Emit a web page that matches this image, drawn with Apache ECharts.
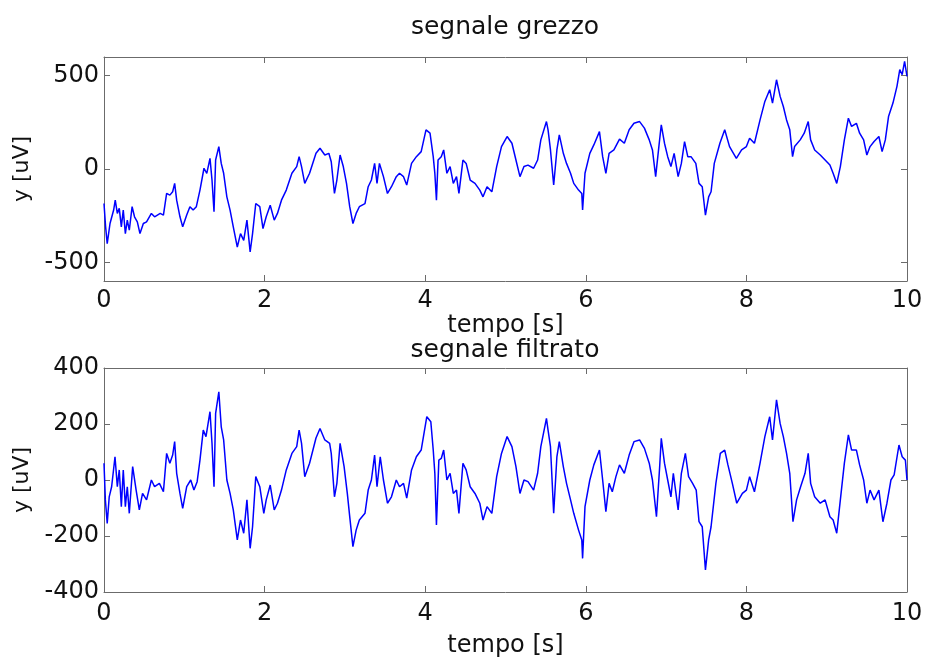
<!DOCTYPE html>
<html>
<head>
<meta charset="utf-8">
<script src="https://cdn.jsdelivr.net/npm/echarts@6/dist/echarts.min.js"></script>
<style>
html,body{margin:0;padding:0;background:#fff;}
#chart{width:925px;height:657px;}
</style>
</head>
<body>
<div id="chart"></div>
<script>
// ---- data ----
const xTicks = [0, 2, 4, 6, 8, 10];
const rawYTicks = [-500, 0, 500];
const filtYTicks = [-400, -200, 0, 200, 400];

const tRaw = [
 0,0.02,0.04,0.075,0.12,0.14,0.166,0.19,0.216,0.24,
 0.266,0.29,0.315,0.35,0.38,0.415,0.448,0.49,0.53,0.59,
 0.63,0.70,0.74,0.78,0.82,0.855,0.88,0.905,0.946,0.98,
 1.03,1.07,1.11,1.15,1.195,1.245,1.28,1.32,1.345,1.37,
 1.39,1.43,1.46,1.49,1.53,1.57,1.61,1.66,1.70,1.74,
 1.78,1.82,1.85,1.89,1.94,1.98,2.02,2.07,2.12,2.16,
 2.21,2.27,2.34,2.40,2.43,2.46,2.50,2.56,2.64,2.69,
 2.75,2.80,2.83,2.87,2.90,2.94,2.98,3.02,3.06,3.10,
 3.14,3.18,3.25,3.29,3.33,3.37,3.40,3.43,3.48,3.53,
 3.58,3.64,3.68,3.73,3.77,3.83,3.89,3.95,4.01,4.06,
 4.10,4.12,4.14,4.16,4.20,4.23,4.27,4.31,4.35,4.39,
 4.42,4.47,4.51,4.56,4.62,4.68,4.72,4.77,4.83,4.89,
 4.95,5.02,5.08,5.13,5.18,5.23,5.28,5.35,5.40,5.44,
 5.51,5.53,5.56,5.60,5.64,5.67,5.72,5.76,5.81,5.85,
 5.91,5.95,5.96,5.99,6.05,6.10,6.17,6.21,6.25,6.29,
 6.35,6.42,6.48,6.54,6.60,6.67,6.73,6.79,6.83,6.87,
 6.91,6.94,6.98,7.02,7.06,7.10,7.15,7.19,7.23,7.27,
 7.31,7.37,7.41,7.45,7.49,7.53,7.56,7.60,7.67,7.73,
 7.79,7.875,7.94,8.0,8.04,8.10,8.17,8.23,8.29,8.325,
 8.375,8.42,8.46,8.5,8.54,8.575,8.60,8.67,8.72,8.77,
 8.80,8.85,8.92,8.98,9.04,9.08,9.125,9.17,9.22,9.27,
 9.31,9.37,9.41,9.46,9.5,9.54,9.59,9.65,9.69,9.73,
 9.77,9.825,9.875,9.91,9.94,9.97,10.0
];
const yRaw = [
 -185,-310,-400,-292,-220,-167,-238,-211,-310,-220,
 -346,-274,-328,-202,-256,-283,-346,-292,-283,-238,
 -256,-238,-247,-131,-140,-122,-77,-167,-256,-310,
 -247,-202,-220,-202,-113,4,-23,57,-59,-229,
 48,120,30,-23,-149,-220,-310,-418,-346,-382,
 -274,-444,-346,-185,-202,-319,-256,-194,-274,-238,
 -167,-113,-23,13,66,13,-77,-23,84,111,
 75,84,39,-131,-59,75,13,-77,-202,-292,
 -238,-202,-185,-95,-59,30,-77,30,-41,-131,
 -95,-41,-23,-41,-86,30,66,93,210,192,
 66,-23,-167,48,66,102,-23,13,-77,-41,
 -131,48,30,-59,-77,-113,-149,-95,-122,13,
 120,174,138,48,-41,13,21,4,48,156,
 254,210,102,-86,102,183,84,30,-23,-77,
 -113,-131,-220,-23,84,129,200,66,-23,84,
 102,160,138,210,245,254,219,156,102,-41,
 120,237,138,66,13,84,-41,30,147,66,
 66,30,-77,-95,-247,-149,-122,30,138,210,
 120,57,102,120,165,138,263,362,425,353,
 478,389,335,263,210,66,120,156,192,254,
 156,102,75,48,21,-23,-77,13,156,272,
 228,245,192,156,75,120,147,174,93,156,
 281,353,443,532,505,577,496
];

const tFilt = [
 0,0.017,0.04,0.065,0.095,0.137,0.166,0.19,0.216,0.24,
 0.266,0.29,0.315,0.357,0.40,0.44,0.48,0.53,0.59,0.63,
 0.69,0.74,0.78,0.82,0.855,0.88,0.905,0.946,0.98,1.03,
 1.08,1.12,1.16,1.195,1.236,1.27,1.32,1.345,1.37,1.39,
 1.43,1.46,1.49,1.53,1.57,1.61,1.66,1.70,1.74,1.78,
 1.82,1.85,1.89,1.94,1.99,2.02,2.07,2.12,2.16,2.21,
 2.27,2.34,2.40,2.43,2.46,2.50,2.56,2.64,2.69,2.75,
 2.81,2.83,2.87,2.90,2.94,2.99,3.03,3.06,3.10,3.14,
 3.18,3.25,3.29,3.33,3.37,3.40,3.44,3.48,3.53,3.58,
 3.64,3.68,3.73,3.77,3.83,3.89,3.95,4.02,4.07,4.10,
 4.12,4.14,4.17,4.20,4.23,4.27,4.31,4.35,4.39,4.42,
 4.47,4.51,4.56,4.62,4.68,4.72,4.77,4.83,4.89,4.95,
 5.02,5.08,5.13,5.18,5.23,5.28,5.35,5.40,5.44,5.51,
 5.53,5.56,5.60,5.64,5.67,5.72,5.76,5.81,5.85,5.91,
 5.95,5.96,5.99,6.05,6.10,6.17,6.21,6.25,6.29,6.33,
 6.375,6.42,6.48,6.54,6.60,6.67,6.73,6.79,6.83,6.88,
 6.92,6.94,6.98,7.02,7.06,7.09,7.15,7.19,7.24,7.28,
 7.33,7.375,7.41,7.45,7.49,7.53,7.56,7.62,7.675,7.73,
 7.77,7.825,7.88,7.95,8.0,8.04,8.10,8.17,8.23,8.29,
 8.325,8.375,8.42,8.46,8.50,8.54,8.58,8.625,8.675,8.73,
 8.77,8.80,8.85,8.92,8.98,9.04,9.08,9.125,9.17,9.22,
 9.27,9.31,9.37,9.41,9.46,9.50,9.54,9.59,9.65,9.70,
 9.75,9.80,9.84,9.90,9.94,9.98,10.0
];
const yFilt = [
 60,-71,-155,-60,-24,83,-24,36,-95,36,
 -95,-24,-119,48,-36,-107,-48,-71,0,-24,
 -12,-42,95,60,89,137,24,-48,-101,-24,
 0,-36,-6,71,178,155,244,131,-24,238,
 315,190,143,0,-48,-107,-214,-143,-190,-71,
 -244,-167,12,-24,-119,-71,-18,-107,-83,-36,
 36,95,119,178,131,12,60,150,184,143,
 131,95,-60,-12,131,48,-48,-131,-238,-179,
 -143,-119,-36,0,89,-24,83,0,-83,-60,
 0,-24,-12,-65,36,83,107,226,208,107,
 24,-161,71,77,107,0,24,-48,-36,-119,
 60,36,-24,-48,-83,-143,-95,-119,12,95,
 155,119,48,-48,0,-6,-36,24,119,220,
 178,119,-119,83,137,48,-12,-71,-119,-179,
 -214,-280,-95,0,54,107,0,-113,-12,-42,
 12,54,24,89,137,143,113,60,0,-131,
 48,149,60,0,-60,24,-107,24,95,12,
 -12,-36,-149,-167,-321,-214,-167,-12,95,107,
 54,-12,-83,-48,-36,12,-42,60,155,226,
 143,286,202,155,95,24,-149,-71,-24,24,
 95,-12,-60,-83,-71,-131,-143,-190,-71,60,
 161,107,107,54,0,-83,-36,-71,-36,-149,
 -83,0,18,125,83,71,0
];

// ---- chart ----
const FONT = 'DejaVu Sans';
const AX = '#6b6b6b';
const pairs = (ts, ys) => ts.map((t, i) => [t, ys[i]]);

function xAx(grid, pos, named, gap, margin) {
  return {
    gridIndex: grid, type: 'value', position: pos, min: 0, max: 10, interval: 2,
    name: named ? 'tempo [s]' : '', nameLocation: 'middle', nameGap: gap,
    nameTextStyle: { fontFamily: FONT, fontSize: 24, color: '#111' },
    axisLine: { show: true, onZero: false, lineStyle: { color: AX, width: 1 } },
    axisTick: { show: true, inside: true, length: 6, lineStyle: { color: AX }, customValues: xTicks },
    axisLabel: { show: named, margin: margin, fontFamily: FONT, fontSize: 24, color: '#111', customValues: xTicks },
    splitLine: { show: false }
  };
}
function yAx(grid, pos, named, mn, mx, ticks) {
  return {
    gridIndex: grid, type: 'value', position: pos, min: mn, max: mx,
    name: named ? 'y [uV]' : '', nameLocation: 'middle', nameGap: 58, nameRotate: 90,
    nameTextStyle: { fontFamily: FONT, fontSize: 22, color: '#111' },
    axisLine: { show: true, onZero: false, lineStyle: { color: AX, width: 1 } },
    axisTick: { show: true, inside: true, length: 6, lineStyle: { color: AX }, customValues: ticks },
    axisLabel: { show: named, margin: 5, fontFamily: FONT, fontSize: 24, color: '#111', customValues: ticks },
    splitLine: { show: false }
  };
}

const option = {
  animation: false,
  backgroundColor: '#fff',
  title: [
    { text: 'segnale grezzo', left: 505, top: 15, textAlign: 'center', padding: 0,
      textStyle: { fontFamily: FONT, fontSize: 25, fontWeight: 'normal', color: '#111' } },
    { text: 'segnale filtrato', left: 505, top: 338, textAlign: 'center', padding: 0,
      textStyle: { fontFamily: FONT, fontSize: 25, fontWeight: 'normal', color: '#111' } }
  ],
  grid: [
    { left: 104, top: 57, width: 803, height: 224, containLabel: false, outerBoundsMode: 'none' },
    { left: 104, top: 368, width: 803, height: 224, containLabel: false, outerBoundsMode: 'none' }
  ],
  xAxis: [
    xAx(0, 'bottom', true, 25, 8),
    xAx(0, 'top', false, 0, 8),
    xAx(1, 'bottom', true, 42, 10),
    xAx(1, 'top', false, 0, 8)
  ],
  yAxis: [
    yAx(0, 'left', true, -600, 600, rawYTicks),
    yAx(0, 'right', false, -600, 600, rawYTicks),
    yAx(1, 'left', true, -400, 400, filtYTicks),
    yAx(1, 'right', false, -400, 400, filtYTicks)
  ],
  series: [
    { type: 'line', xAxisIndex: 0, yAxisIndex: 0, data: pairs(tRaw, yRaw),
      showSymbol: false, symbol: 'none', lineStyle: { color: '#0000ff', width: 1.5 } },
    { type: 'line', xAxisIndex: 2, yAxisIndex: 2, data: pairs(tFilt, yFilt),
      showSymbol: false, symbol: 'none', lineStyle: { color: '#0000ff', width: 1.5 } }
  ]
};

const chart = echarts.init(document.getElementById('chart'), null, { renderer: 'canvas' });
chart.setOption(option);
</script>
</body>
</html>
